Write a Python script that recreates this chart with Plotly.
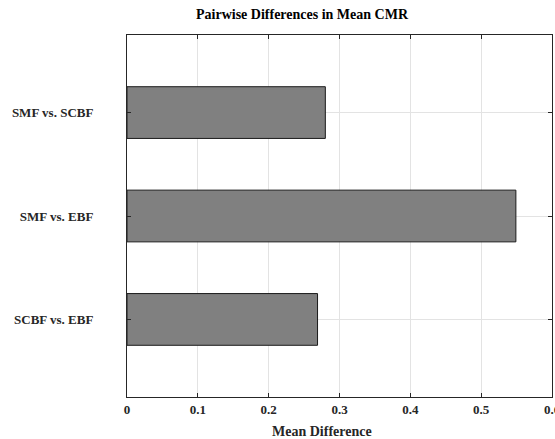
import plotly.graph_objects as go

categories = ["SMF vs. SCBF", "SMF vs. EBF", "SCBF vs. EBF"]
mean_diff = [0.280, 0.549, 0.269]
positions = [3, 2, 1]
x_ticks = [0, 0.1, 0.2, 0.3, 0.4, 0.5, 0.6]
x_tick_labels = ["0", "0.1", "0.2", "0.3", "0.4", "0.5", "0.6"]
title_text = "Pairwise Differences in Mean CMR"
x_title_text = "Mean Difference"

font_family = "Liberation Serif"
W, H = 555, 439

fig = go.Figure()
fig.add_trace(go.Bar(
    x=mean_diff,
    y=positions,
    orientation="h",
    width=0.5,
    marker=dict(color="#808080", line=dict(color="#1a1a1a", width=1)),
    showlegend=False,
))

fig.update_layout(
    width=W,
    height=H,
    margin=dict(l=127, r=3, t=35, b=42, autoexpand=False),
    paper_bgcolor="white",
    plot_bgcolor="white",
    font=dict(family=font_family, size=13, color="#262626"),
    annotations=[
        dict(text="<b>%s</b>" % title_text, xref="paper", yref="paper",
             x=(302 - 127) / (552 - 127), y=1 + (35 - 15) / (397 - 35),
             xanchor="center", yanchor="middle", showarrow=False,
             font=dict(family=font_family, size=14, color="black")),
        dict(text="<b>%s</b>" % x_title_text, xref="paper", yref="paper",
             x=(322 - 127) / (552 - 127), y=-(431 - 397) / (397 - 35),
             xanchor="center", yanchor="middle", showarrow=False,
             font=dict(family=font_family, size=14, color="#262626")),
    ],
)

fig.update_xaxes(
    range=[0, 0.6],
    tickvals=x_ticks,
    ticktext=["<b>%s</b>" % t for t in x_tick_labels],
    showgrid=True,
    gridcolor="#e3e3e3",
    gridwidth=1,
    zeroline=False,
    showline=True,
    linecolor="#262626",
    linewidth=1,
    mirror="allticks",
    ticks="inside",
    ticklen=4,
    tickcolor="#262626",
    ticklabeloverflow="allow",
    automargin=False,
    tickfont=dict(family=font_family, size=13, color="#262626"),
)

fig.update_yaxes(
    range=[0.25, 3.75],
    tickvals=positions,
    ticktext=["<b>%s</b>" % c for c in categories],
    showgrid=True,
    gridcolor="#e3e3e3",
    gridwidth=1,
    zeroline=False,
    showline=True,
    linecolor="#262626",
    linewidth=1,
    mirror="allticks",
    ticks="inside",
    ticklen=4,
    tickcolor="#262626",
    ticklabelstandoff=30,
    automargin=False,
    tickfont=dict(family=font_family, size=13, color="#262626"),
)

fig.write_html("out.html")
